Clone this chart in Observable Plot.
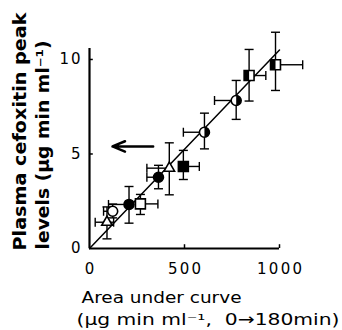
<!DOCTYPE html>
<html><head><meta charset="utf-8">
<script src="https://cdn.jsdelivr.net/npm/d3@7"></script>
<script src="https://cdn.jsdelivr.net/npm/@observablehq/plot@0.6"></script>
<style>body{margin:0;background:#fff} svg{display:block}</style>
</head><body><div id="chart"></div>
<script>
// Data
const auc   = [92, 122, 208, 268, 363, 420, 494, 605, 772, 840, 979];
const peak  = [1.39, 1.97, 2.33, 2.36, 3.77, 4.25, 4.34, 6.15, 7.83, 9.15, 9.72];
const shape = ["triangle","circle","circle","square","circle","triangle","square","circle","circle","square","square"];
const fillStyle = ["open","open","filled","open","filled","open","filled","half","half","half","half"];
const aucLow  = [30, 74, 100, null, 302, 302, null, 494, 658, null, null];
const aucHigh = [127, null, null, 360, null, null, 578, null, null, 928, 1122];
const peakLow  = [0.51, 1.62, 1.34, 1.8, 3.16, 2.84, 3.65, 5.27, 6.83, 7.8, 8.36];
const peakHigh = [2.2, 2.35, 3.28, 2.86, 4.4, 5.59, 5.19, 7.16, 8.89, 10.53, 11.44];
const fitX = [0, 1000];
const fitY = [0, 10.5];
const arrowX = [335, 121];
const arrowY = [5.4];
const xTicks = [0, 500, 1000];
const yTicks = [0, 5, 10];
const yTitle1 = "Plasma cefoxitin peak";
const yTitle2 = "levels (\u03bcg min ml\u207b\u00b9)";
const xTitle1 = "Area under curve";
const xTitle2 = "(\u03bcg min ml\u207b\u00b9,  0\u2192180min)";

const pts = auc.map((x, i) => ({x, y: peak[i], shape: shape[i], fill: fillStyle[i],
  xl: aucLow[i], xh: aucHigh[i], yl: peakLow[i], yh: peakHigh[i]}));

const hSegs = [], vSegs = [];
for (const p of pts) {
  if (p.xl != null) hSegs.push({x1: p.x, x2: p.xl, y: p.y});
  if (p.xh != null) hSegs.push({x1: p.x, x2: p.xh, y: p.y});
  if (p.yl != null) vSegs.push({y1: p.y, y2: p.yl, x: p.x});
  if (p.yh != null) vSegs.push({y1: p.y, y2: p.yh, x: p.x});
}
const capV = {draw(ctx) { ctx.moveTo(0, -4.5); ctx.lineTo(0, 4.5); }};
const capH = {draw(ctx) { ctx.moveTo(-4.5, 0); ctx.lineTo(4.5, 0); }};
const halfRight = {draw(ctx, size) { const r = Math.sqrt(size / Math.PI); ctx.moveTo(0, -r); ctx.arc(0, 0, r, -Math.PI/2, Math.PI/2); ctx.closePath(); }};
const halfLeft = {draw(ctx, size) { const w = Math.sqrt(size) / 2; ctx.rect(-w, -w, w, 2*w); }};

const font = "DejaVu Sans";
const rOf = {circle: 5, square: 5.6, triangle: 3.9};
const symMarks = [];
for (const s of ["circle", "square", "triangle"]) {
  const d = pts.filter(p => p.shape === s);
  symMarks.push(Plot.dot(d, {x: "x", y: "y", symbol: s, r: rOf[s], stroke: "black", strokeWidth: 1.6,
    fill: p => p.fill === "filled" ? "black" : "white"}));
}
symMarks.push(Plot.dot(pts.filter(p => p.fill === "half" && p.shape === "circle"), {x: "x", y: "y", symbol: halfRight, r: rOf.circle, fill: "black"}));
symMarks.push(Plot.dot(pts.filter(p => p.fill === "half" && p.shape === "square"), {x: "x", y: "y", symbol: halfLeft, r: rOf.square, fill: "black"}));

const chart = Plot.plot({
  width: 342, height: 330,
  marginLeft: 89, marginRight: 63, marginTop: 48, marginBottom: 82,
  x: {domain: [0, 1000], axis: null},
  y: {domain: [0, 10.58], axis: null},
  style: {fontFamily: font, background: "white", overflow: "visible"},
  marks: [
    Plot.ruleX([0], {strokeWidth: 2.2}),
    Plot.ruleY([0], {strokeWidth: 2.2}),
    Plot.ruleX(xTicks.slice(1), {y1: 0, y2: 0.2, strokeWidth: 1.5}),
    Plot.ruleY(yTicks.slice(1), {x1: 0, x2: 20, strokeWidth: 1.5}),
    Plot.text(xTicks, {x: d => d, y: 0, dy: 21, text: d => String(d), fontSize: 15, textAnchor: "middle"}),
    Plot.text(yTicks, {x: 0, y: d => d, dx: -9, text: d => String(d), fontSize: 15, textAnchor: "end"}),
    Plot.line(fitX.map((x, i) => ({x, y: fitY[i]})), {x: "x", y: "y", strokeWidth: 1.5}),
    Plot.link(hSegs, {x1: "x1", x2: "x2", y1: "y", y2: "y", strokeWidth: 1.4}),
    Plot.link(vSegs, {x1: "x", x2: "x", y1: "y1", y2: "y2", strokeWidth: 1.4}),
    Plot.dot(hSegs, {x: "x2", y: "y", symbol: capV, stroke: "black", strokeWidth: 1.4}),
    Plot.dot(vSegs, {x: "x", y: "y2", symbol: capH, stroke: "black", strokeWidth: 1.4}),
    ...symMarks,
    Plot.arrow(arrowY, {x1: arrowX[0], x2: arrowX[1], y1: d => d, y2: d => d, strokeWidth: 2.5, headLength: 11, headAngle: 45}),
    Plot.text([yTitle1], {frameAnchor: "bottom-left", text: d => d, rotate: -90, textAnchor: "start", lineAnchor: "middle", dx: -69, dy: 2, fontSize: 17, fontWeight: "bold"}),
    Plot.text([yTitle2], {frameAnchor: "bottom-left", text: d => d, rotate: -90, textAnchor: "start", lineAnchor: "middle", dx: -46, dy: 1, fontSize: 17, fontWeight: "bold"}),
    Plot.text([xTitle1], {frameAnchor: "bottom-left", text: d => d, textAnchor: "start", lineAnchor: "middle", dx: -8, dy: 49, fontSize: 16}),
    Plot.text([xTitle2], {frameAnchor: "bottom-left", text: d => d, textAnchor: "start", lineAnchor: "middle", dx: -13, dy: 71, fontSize: 16})
  ]
});

const lengths = {[yTitle1]: 238, [yTitle2]: 209, [xTitle1]: 160, [xTitle2]: 263};
d3.select(chart).selectAll("text").each(function() {
  const t = this.textContent;
  if (lengths[t]) d3.select(this).attr("textLength", lengths[t]).attr("lengthAdjust", "spacingAndGlyphs");
  else if (/^\d+$/.test(t)) d3.select(this).attr("textLength", t.length * 12 - 3).attr("lengthAdjust", "spacing");
});
document.getElementById("chart").appendChild(chart);
</script>
</body></html>
